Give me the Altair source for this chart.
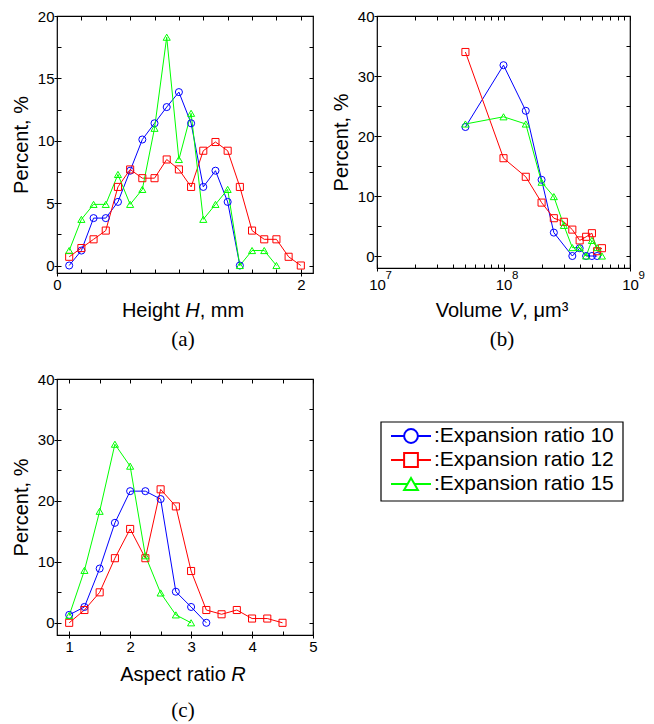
import altair as alt
import pandas as pd

# ---------------- data ----------------
series_names = ["10", "12", "15"]
legend_labels = [":Expansion ratio 10", ":Expansion ratio 12", ":Expansion ratio 15"]
colors = ["#0000ff", "#ff0000", "#00ff00"]
shapes = ["circle", "square", "triangle-up"]

# (a) Height H, mm
a_x10 = [0.1, 0.2, 0.3, 0.4, 0.5, 0.6, 0.7, 0.8, 0.9, 1.0, 1.1, 1.2, 1.3, 1.4, 1.5]
a_y10 = [0, 1.2, 3.8, 3.8, 5.1, 7.6, 10.1, 11.4, 12.7, 13.9, 11.4, 6.3, 7.6, 5.1, 0]
a_x12 = [0.1, 0.2, 0.3, 0.4, 0.5, 0.6, 0.7, 0.8, 0.9, 1.0, 1.1, 1.2, 1.3, 1.4, 1.5,
         1.6, 1.7, 1.8, 1.9, 2.0]
a_y12 = [0.7, 1.4, 2.1, 2.8, 6.3, 7.7, 7.0, 7.0, 8.5, 7.7, 6.3, 9.2, 9.9, 9.2, 6.3,
         2.8, 2.1, 2.1, 0.7, 0]
a_x15 = [0.1, 0.2, 0.3, 0.4, 0.5, 0.6, 0.7, 0.8, 0.9, 1.0, 1.1, 1.2, 1.3, 1.4, 1.5,
         1.6, 1.7, 1.8]
a_y15 = [1.2, 3.7, 4.9, 4.9, 7.3, 4.9, 6.1, 11.0, 18.3, 8.5, 12.2, 3.7, 4.9, 6.1, 0,
         1.2, 1.2, 0]

# (b) Volume V, um^3
b_x10 = [5e7, 1e8, 1.5e8, 2e8, 2.5e8, 3.5e8, 4e8, 4.5e8, 5e8, 5.5e8]
b_y10 = [21.5, 31.8, 24.2, 12.7, 3.9, 0, 1.3, 0, 0, 0]
b_x12 = [5e7, 1e8, 1.5e8, 2e8, 2.5e8, 3e8, 3.5e8, 4e8, 4.5e8, 5e8, 5.5e8, 6e8]
b_y12 = [34.0, 16.3, 13.2, 8.9, 6.3, 5.7, 4.4, 2.6, 3.2, 3.8, 0.8, 1.3]
b_x15 = [5e7, 1e8, 1.5e8, 2e8, 2.5e8, 3e8, 3.5e8, 4e8, 4.5e8, 5e8, 5.5e8, 6e8]
b_y15 = [22.0, 23.2, 22.0, 12.3, 9.9, 5.1, 1.4, 1.4, 0, 2.6, 1.4, 0]

# (c) Aspect ratio R
c_x10 = [1.0, 1.25, 1.5, 1.75, 2.0, 2.25, 2.5, 2.75, 3.0, 3.25]
c_y10 = [1.3, 2.6, 8.9, 16.4, 21.6, 21.6, 20.3, 5.1, 2.6, 0]
c_x12 = [1.0, 1.25, 1.5, 1.75, 2.0, 2.25, 2.5, 2.75, 3.0, 3.25, 3.5, 3.75, 4.0, 4.25, 4.5]
c_y12 = [0, 2.1, 5.0, 10.6, 15.4, 10.6, 21.9, 19.1, 8.5, 2.1, 1.4, 2.1, 0.7, 0.7, 0]
c_x15 = [1.0, 1.25, 1.5, 1.75, 2.0, 2.25, 2.5, 2.75, 3.0]
c_y15 = [1.2, 8.6, 18.3, 29.3, 25.7, 11.0, 4.9, 1.3, 0]

# axis tick values
a_xlabels = [0, 1, 2]
a_xticks = [0, 0.2, 0.4, 0.6, 0.8, 1.0, 1.2, 1.4, 1.6, 1.8, 2.0]
a_ylabels = [0, 5, 10, 15, 20]
a_yticks = [0, 2.5, 5, 7.5, 10, 12.5, 15, 17.5, 20]
b_xlabels = [1e7, 1e8, 1e9]
b_xexps = ["7", "8", "9"]
b_xticks = [1e7, 2e7, 3e7, 4e7, 5e7, 6e7, 7e7, 8e7, 9e7,
            1e8, 2e8, 3e8, 4e8, 5e8, 6e8, 7e8, 8e8, 9e8, 1e9]
b_ylabels = [0, 10, 20, 30, 40]
b_yticks = [0, 5, 10, 15, 20, 25, 30, 35, 40]
c_xlabels = [1, 2, 3, 4, 5]
c_xticks = [1, 1.5, 2, 2.5, 3, 3.5, 4, 4.5, 5]
c_ylabels = [0, 10, 20, 30, 40]
c_yticks = [0, 5, 10, 15, 20, 25, 30, 35, 40]


def frame(xs, ys):
    rows = []
    for name, xv, yv in zip(series_names, xs, ys):
        for a, b in zip(xv, yv):
            rows.append({"x": a, "y": b, "series": name})
    return pd.DataFrame(rows)


df_a = frame([a_x10, a_x12, a_x15], [a_y10, a_y12, a_y15])
df_b = frame([b_x10, b_x12, b_x15], [b_y10, b_y12, b_y15])
df_c = frame([c_x10, c_x12, c_x15], [c_y10, c_y12, c_y15])

SANS = "Liberation Sans"
SERIF = "Liberation Serif"
TITLE_FS = 20
LEGEND_FS = 21
LABEL_FS = 15

# Arial / Liberation Sans advance widths (per 1000 em) for title layout
CW = {" ": 278, ",": 278, "A": 667, "H": 722, "R": 722, "V": 667, "a": 556, "c": 500,
      "e": 556, "g": 556, "h": 556, "i": 222, "l": 222, "m": 833, "o": 556, "p": 556,
      "r": 333, "s": 500, "t": 278, "u": 556, "\u03bc": 576, "\u00b3": 333}


def tw(s, fs=TITLE_FS):
    return sum(CW.get(ch, 556) for ch in s) * fs / 1000.0


cscale = alt.Scale(domain=series_names, range=colors)
sscale = alt.Scale(domain=series_names, range=shapes)


def title_layers(pre, it, post, cx, base_y, caption, cap_y):
    total = tw(pre) + tw(" ") + tw(it) + tw(post)
    s = cx - total / 2.0
    parts = [(pre, s, "normal"), (it, s + tw(pre) + tw(" "), "italic")]
    if post:
        parts.append((post, s + tw(pre) + tw(" ") + tw(it), "normal"))
    out = []
    for txt, xpos, style in parts:
        out.append(
            alt.Chart(pd.DataFrame({"t": [txt]}))
            .mark_text(align="left", baseline="alphabetic", font=SANS,
                       fontSize=TITLE_FS, fontStyle=style, color="black")
            .encode(text="t:N", x=alt.value(xpos), y=alt.value(base_y))
        )
    out.append(
        alt.Chart(pd.DataFrame({"t": [caption]}))
        .mark_text(align="center", baseline="alphabetic", font=SERIF,
                   fontSize=21, color="black")
        .encode(text="t:N", x=alt.value(cx), y=alt.value(cap_y))
    )
    return out


def panel(df, xscale, yscale, xlab, xtick, ylab, ytick, W, H, titles,
          label_expr=None, xlabel_pad=1, fmt="d", extra=()):
    main_x = dict(orient="bottom", values=xlab, tickSize=3, labelPadding=xlabel_pad,
                  title=None, labelFlush=False, labelOverlap=False)
    if label_expr:
        main_x["labelExpr"] = label_expr
    else:
        main_x["format"] = fmt
    main_y = dict(orient="left", values=ylab, tickSize=3, labelPadding=0,
                  title="Percent, %", titlePadding=6, labelFlush=False,
                  labelOverlap=False, format="d")
    line = alt.Chart(df).mark_line(strokeWidth=1).encode(
        x=alt.X("x:Q", scale=xscale, axis=alt.Axis(**main_x)),
        y=alt.Y("y:Q", scale=yscale, axis=alt.Axis(**main_y)),
        color=alt.Color("series:N", scale=cscale, legend=None),
    )
    pts = alt.Chart(df).mark_point(filled=False, size=50, strokeWidth=1, opacity=1).encode(
        x=alt.X("x:Q", scale=xscale,
                axis=alt.Axis(orient="top", offset=-H, values=xtick, labels=False,
                              tickSize=4, title=None)),
        y=alt.Y("y:Q", scale=yscale,
                axis=alt.Axis(orient="right", offset=-W, values=ytick, labels=False,
                              tickSize=4, title=None)),
        color=alt.Color("series:N", scale=cscale, legend=None),
        shape=alt.Shape("series:N", scale=sscale, legend=None),
    )
    ghost = alt.Chart(df).mark_point(opacity=0).encode(
        x=alt.X("x:Q", scale=xscale,
                axis=alt.Axis(orient="bottom", offset=-H, values=xtick, labels=False,
                              tickSize=4, title=None)),
        y=alt.Y("y:Q", scale=yscale,
                axis=alt.Axis(orient="left", offset=-W, values=ytick, labels=False,
                              tickSize=4, title=None)),
    )
    return (
        alt.layer(line, pts, ghost, *extra, *titles)
        .resolve_axis(x="independent", y="independent")
        .properties(width=W, height=H)
    )


WA, HA = 256, 257
WB, HB = 253, 252
WC, HC = 256, 256

chart_a = panel(
    df_a,
    alt.Scale(domain=[0, 2.1], nice=False, zero=False),
    alt.Scale(domain=[-0.6, 20], nice=False, zero=False),
    a_xlabels, a_xticks, a_ylabels, a_yticks, WA, HA,
    title_layers("Height", "H", ", mm", 126, 301, "(a)", 330),
)

b_xscale = alt.Scale(type="log", domain=[1e7, 1e9], nice=False)
# superscript exponents of the 10^n tick labels, placed through the x scale
sup = alt.Chart(pd.DataFrame({"v": b_xlabels, "e": b_xexps})).mark_text(
    align="left", baseline="alphabetic", font=SANS, fontSize=11.5, dx=8.5, color="black"
).encode(x=alt.X("v:Q", scale=b_xscale, axis=None), y=alt.value(HB + 11), text="e:N")

chart_b = panel(
    df_b,
    b_xscale,
    alt.Scale(domain=[-2, 40], nice=False, zero=False),
    b_xlabels, b_xticks, b_ylabels, b_yticks, WB, HB,
    title_layers("Volume", "V", ", \u03bcm\u00b3", 125, 301, "(b)", 330),
    label_expr="'10'", xlabel_pad=6, extra=(sup,),
)

chart_c = panel(
    df_c,
    alt.Scale(domain=[0.8, 5], nice=False, zero=False),
    alt.Scale(domain=[-2, 40], nice=False, zero=False),
    c_xlabels, c_xticks, c_ylabels, c_yticks, WC, HC,
    title_layers("Aspect ratio", "R", "", 126, 302, "(c)", 338),
)

# ---------------- custom legend ----------------
df_leg = pd.DataFrame({"series": series_names, "label": legend_labels})
ly = alt.Y("series:N", scale=alt.Scale(type="point", domain=series_names,
                                       range=[57, 105], padding=0), axis=None)
leg_box = alt.Chart(pd.DataFrame({"k": [0]})).mark_rect(
    fill="white", stroke="black", strokeWidth=1.2
).encode(x=alt.value(4), x2=alt.value(246), y=alt.value(43), y2=alt.value(122))
leg_line = alt.Chart(df_leg).mark_rule(strokeWidth=2).encode(
    x=alt.value(14), x2=alt.value(54), y=ly,
    color=alt.Color("series:N", scale=cscale, legend=None),
)
leg_pts = alt.Chart(df_leg).mark_point(filled=True, fill="white", size=190,
                                       strokeWidth=2, opacity=1).encode(
    x=alt.value(34), y=ly,
    stroke=alt.Color("series:N", scale=cscale, legend=None),
    shape=alt.Shape("series:N", scale=sscale, legend=None),
)
leg_txt = alt.Chart(df_leg).mark_text(align="left", baseline="middle", font=SANS,
                                      fontSize=LEGEND_FS, color="black").encode(
    x=alt.value(57), y=ly, text="label:N",
)
legend = (
    alt.layer(leg_box, leg_line, leg_pts, leg_txt)
    .properties(width=WB, height=HC, view=alt.ViewBackground(stroke="transparent"))
)

chart = (
    alt.ConcatChart(concat=[chart_a, chart_b, chart_c, legend], columns=2,
                    spacing={"row": 106, "column": 64}, bounds="flush")
    .properties(padding={"left": 2, "top": 0, "right": 0, "bottom": 0})
    .configure_axis(labelFont=SANS, labelFontSize=LABEL_FS, titleFont=SANS,
                    titleFontSize=TITLE_FS, titleFontWeight="normal",
                    labelColor="black", titleColor="black", tickColor="black",
                    tickWidth=1, grid=False, domain=False)
    .configure_view(stroke="black", strokeWidth=1.2)
)

chart.save("out.html", embed_options={"renderer": "svg", "actions": False})
